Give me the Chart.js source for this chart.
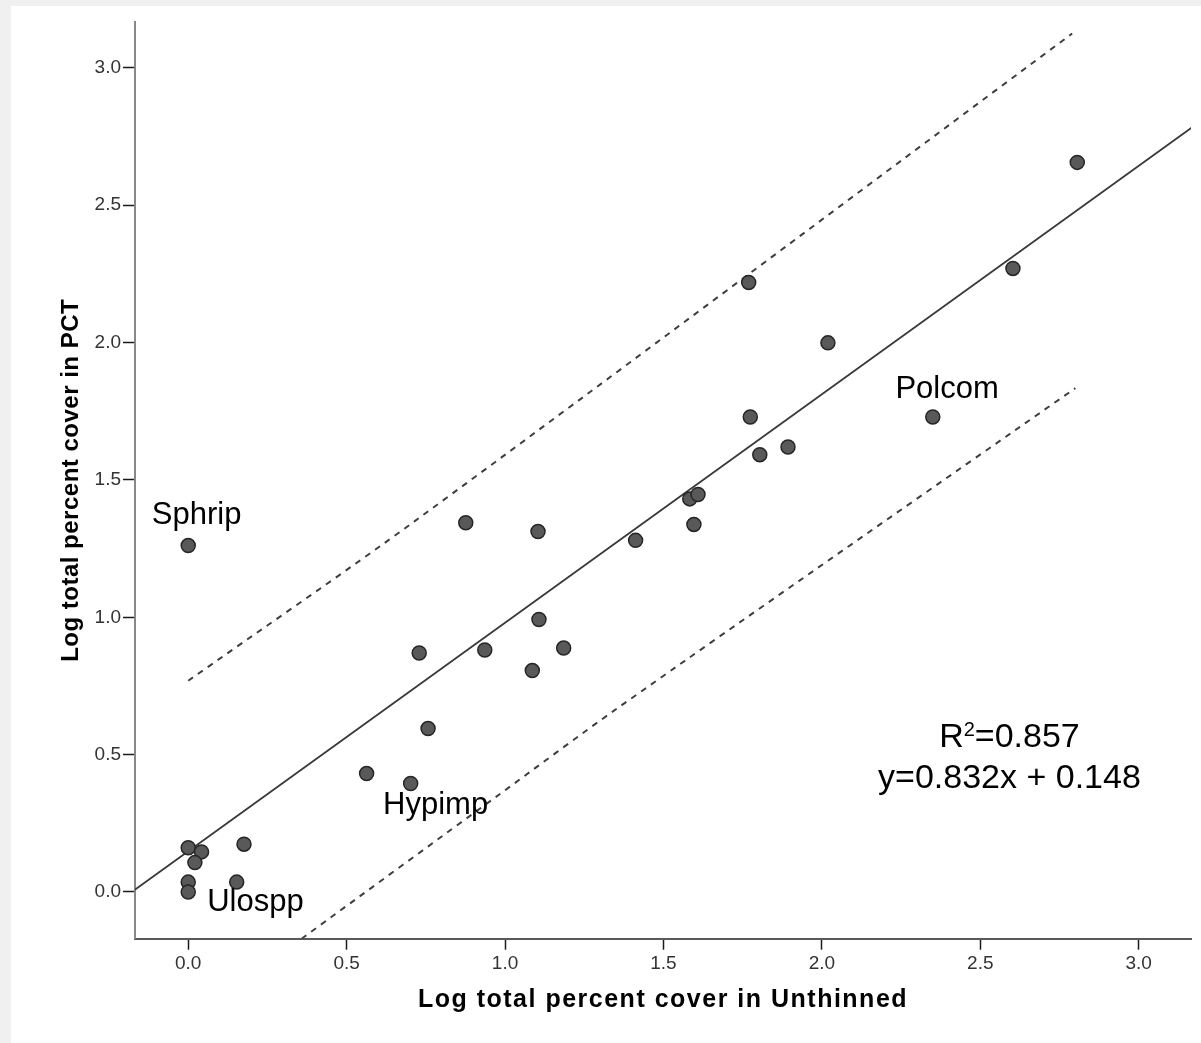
<!DOCTYPE html>
<html>
<head>
<meta charset="utf-8">
<script src="https://cdn.jsdelivr.net/npm/chart.js@4.4.1/dist/chart.umd.min.js"></script>
<style>
  html, body { margin: 0; padding: 0; background: #f0f0f0; }
  #panel { position: absolute; left: 11px; top: 6px; width: 1190px; height: 1037px; background: #fff; }
  canvas { display: block; }
</style>
</head>
<body>
<div id="panel"><canvas id="chartCover" width="1190" height="1037"></canvas></div>
<script>
  // log cover, unthinned (x) vs PCT (y)
  var coverUnthinned = [0, 0.042, 0.021, 0.176, 0, 0, 0.153, 0, 0.563, 0.702,
    0.757, 0.729, 0.936, 1.086, 1.185, 1.107, 0.876, 1.104, 1.412, 1.596,
    1.583, 1.609, 1.774, 1.804, 1.893, 1.769, 2.019, 2.350, 2.603, 2.806];
  var coverPCT = [0.161, 0.146, 0.107, 0.174, 0.036, 0.0, 0.036, 1.261, 0.431, 0.395,
    0.595, 0.870, 0.881, 0.806, 0.888, 0.992, 1.344, 1.312, 1.280, 1.338,
    1.431, 1.447, 1.729, 1.592, 1.620, 2.219, 1.999, 1.729, 2.270, 2.656];

  // fit line and prediction band
  var fitX = [-0.17, 3.17];
  var fitY = [0.007, 2.785];
  var upperX = [0, 0.715, 2.79];
  var upperY = [0.769, 1.350, 3.125];
  var lowerX = [0.358, 0.983, 1.351, 2.800];
  var lowerY = [-0.170, 0.356, 0.666, 1.834];

  var xTicks = [0, 0.5, 1.0, 1.5, 2.0, 2.5, 3.0];
  var yTicks = [0, 0.5, 1.0, 1.5, 2.0, 2.5, 3.0];

  var speciesNames = ['Sphrip', 'Polcom', 'Hypimp', 'Ulospp'];
  var rSquared = '0.857';
  var equationText = 'y=0.832x + 0.148';

  function pts(xs, ys) {
    return xs.map(function (x, i) { return { x: x, y: ys[i] }; });
  }

  var textPlugin = {
    id: 'textPlugin',
    afterDatasetsDraw: function (chart) {
      var ctx = chart.ctx;
      var xs = chart.scales.x, ys = chart.scales.y;
      ctx.save();
      ctx.fillStyle = '#000';
      ctx.textBaseline = 'alphabetic';
      ctx.textAlign = 'left';
      ctx.font = '31px "Liberation Sans", Arial, sans-serif';
      var spots = [[-0.115, 1.339], [2.232, 1.798], [0.615, 0.285], [0.060, -0.069]];
      speciesNames.forEach(function (n, i) {
        ctx.fillText(n, xs.getPixelForValue(spots[i][0]), ys.getPixelForValue(spots[i][1]));
      });

      // R2 line, centred
      var cx = xs.getPixelForValue(2.592);
      var big = '34px "Liberation Sans", Arial, sans-serif';
      var small = '20px "Liberation Sans", Arial, sans-serif';
      ctx.font = big;
      var wR = ctx.measureText('R').width;
      var wRest = ctx.measureText('=' + rSquared).width;
      ctx.font = small;
      var w2 = ctx.measureText('2').width;
      var x0 = cx - (wR + w2 + wRest) / 2;
      var by = ys.getPixelForValue(0.529);
      ctx.font = big;
      ctx.fillText('R', x0, by);
      ctx.font = small;
      ctx.fillText('2', x0 + wR, by - 11);
      ctx.font = big;
      ctx.fillText('=' + rSquared, x0 + wR + w2, by);
      ctx.textAlign = 'center';
      ctx.fillText(equationText, cx, ys.getPixelForValue(0.378));

      // axis titles
      ctx.font = 'bold 25px "Liberation Sans", Arial, sans-serif';
      ctx.letterSpacing = '1.5px';
      ctx.fillText('Log total percent cover in Unthinned', (xs.left + xs.right) / 2, 1001);
      ctx.letterSpacing = '0.5px';
      ctx.font = 'bold 24px "Liberation Sans", Arial, sans-serif';
      ctx.translate(67, (ys.top + ys.bottom) / 2);
      ctx.rotate(-Math.PI / 2);
      ctx.fillText('Log total percent cover in PCT', 0, 0);
      ctx.restore();
    }
  };

  var lineStyle = { type: 'line', showLine: true, pointRadius: 0, fill: false, tension: 0.3 };

  new Chart(document.getElementById('chartCover'), {
    type: 'scatter',
    data: {
      datasets: [
        {
          label: 'Species',
          data: pts(coverUnthinned, coverPCT),
          pointRadius: 7,
          pointHoverRadius: 7,
          backgroundColor: '#595959',
          borderColor: '#262626',
          borderWidth: 1.5
        },
        Object.assign({ label: 'Fit', data: pts(fitX, fitY), borderColor: '#3a3a3a', borderWidth: 1.8 }, lineStyle),
        Object.assign({ label: 'Upper', data: pts(upperX, upperY), borderColor: '#3f3f3f', borderWidth: 2, borderDash: [6, 6] }, lineStyle),
        Object.assign({ label: 'Lower', data: pts(lowerX, lowerY), borderColor: '#3f3f3f', borderWidth: 2, borderDash: [6, 6] }, lineStyle)
      ]
    },
    options: {
      responsive: false,
      animation: false,
      layout: { padding: { top: 16, right: 10, left: 0, bottom: 0 } },
      plugins: {
        legend: { display: false },
        tooltip: { enabled: false }
      },
      scales: {
        x: {
          type: 'linear',
          min: -0.168,
          max: 3.165,
          afterBuildTicks: function (s) { s.ticks = xTicks.map(function (v) { return { value: v }; }); },
          afterFit: function (s) { s.height = 104.3; },
          ticks: {
            padding: 3,
            color: '#333',
            maxRotation: 0,
            font: { family: '"Liberation Sans", Arial, sans-serif', size: 19 },
            callback: function (v) { return Number(v).toFixed(1); }
          },
          grid: { drawOnChartArea: false, drawTicks: true, tickLength: 11, tickColor: '#1a1a1a', tickWidth: 1.5 },
          border: { display: true, color: '#5a5a5a', width: 2 }
        },
        y: {
          type: 'linear',
          min: -0.170,
          max: 3.167,
          afterBuildTicks: function (s) { s.ticks = yTicks.map(function (v) { return { value: v }; }); },
          afterFit: function (s) { s.width = 124; },
          ticks: {
            padding: 2,
            color: '#333',
            font: { family: '"Liberation Sans", Arial, sans-serif', size: 19 },
            callback: function (v) { return Number(v).toFixed(1); }
          },
          grid: { drawOnChartArea: false, drawTicks: true, tickLength: 12, tickColor: '#1a1a1a', tickWidth: 1.5 },
          border: { display: true, color: '#888', width: 2 }
        }
      }
    },
    plugins: [textPlugin]
  });
</script>
</body>
</html>
